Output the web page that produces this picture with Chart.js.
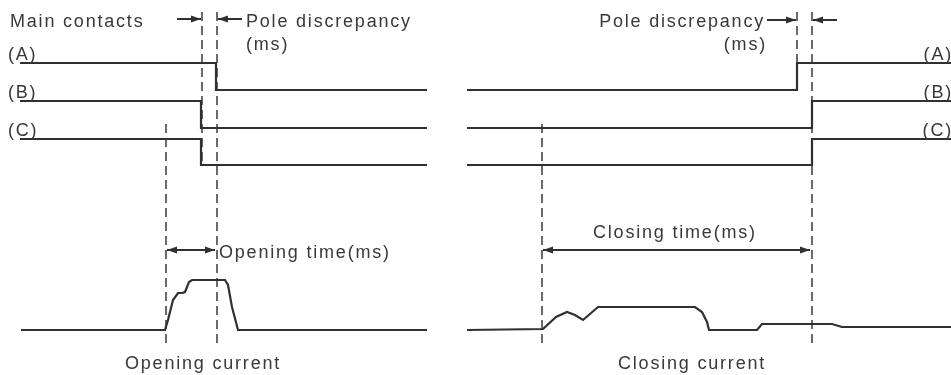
<!DOCTYPE html>
<html>
<head>
<meta charset="utf-8">
<script src="https://cdn.jsdelivr.net/npm/chart.js@4.4.0/dist/chart.umd.js"></script>
<style>
  html, body { margin: 0; padding: 0; background: #fff; }
  #wrap { width: 951px; height: 375px; }
</style>
</head>
<body>
<div id="wrap"><canvas id="timing" width="951" height="375"></canvas></div>
<script>
// Timing diagram: breaker opening (left) and closing (right)
// x = time axis units, y = signal level units (down is lower on the sheet)

// Opening - main contacts
const openTimeA = [20, 216, 216, 427];
const openLevelA = [63, 63, 90, 90];
const openTimeB = [20, 201, 201, 427];
const openLevelB = [101, 101, 128, 128];
const openTimeC = [20, 201, 201, 427];
const openLevelC = [139, 139, 165, 165];

// Opening - coil current
const openCurTime = [21, 165, 168, 173, 178, 182, 185, 189, 192, 225, 228, 232, 238, 427];
const openCurLevel = [330, 330, 320, 300, 293, 293, 292, 282, 280, 280, 285, 307, 330, 330];

// Closing - main contacts
const closeTimeA = [467, 797, 797, 951];
const closeLevelA = [90, 90, 63, 63];
const closeTimeB = [467, 812, 812, 951];
const closeLevelB = [128, 128, 101, 101];
const closeTimeC = [467, 812, 812, 951];
const closeLevelC = [165, 165, 139, 139];

// Closing - coil current
const closeCurTime = [467, 543, 556, 567, 575, 583, 598, 695, 702, 707, 709, 757, 762, 832, 842, 951];
const closeCurLevel = [330, 329, 317, 312, 315, 320, 307, 307, 312, 322, 330, 330, 324, 324, 327, 327];

// Marker (dashed) lines: time, from level, to level
const markerTimes = [166, 202, 217, 542, 797, 812];
const markerFrom = [124, 12, 12, 124, 12, 12];
const markerTo = [348, 165, 348, 348, 90, 348];

const lineColor = '#303030';
const textColor = '#383838';

function toPoints(xs, ys) {
    return xs.map((x, i) => ({ x: x, y: ys[i] }));
}

function trace(xs, ys) {
    return {
        data: toPoints(xs, ys),
        showLine: true,
        borderColor: lineColor,
        borderWidth: 2.2,
        pointRadius: 0,
        tension: 0,
        fill: false
    };
}

function marker(i) {
    return {
        data: [{ x: markerTimes[i], y: markerFrom[i] }, { x: markerTimes[i], y: markerTo[i] }],
        showLine: true,
        borderColor: '#3a3a3a',
        borderWidth: 1.5,
        borderDash: [9, 5],
        pointRadius: 0,
        fill: false
    };
}

const datasets = [
    trace(openTimeA, openLevelA),
    trace(openTimeB, openLevelB),
    trace(openTimeC, openLevelC),
    trace(openCurTime, openCurLevel),
    trace(closeTimeA, closeLevelA),
    trace(closeTimeB, closeLevelB),
    trace(closeTimeC, closeLevelC),
    trace(closeCurTime, closeCurLevel)
];
markerTimes.forEach((t, i) => datasets.push(marker(i)));

// Labels: text, time, level, alignment
const labels = [
    ['Main contacts', 10, 27, 'left'],
    ['Pole discrepancy', 246, 27, 'left'],
    ['(ms)', 246, 50, 'left'],
    ['(A)', 8, 60, 'left'],
    ['(B)', 8, 98, 'left'],
    ['(C)', 8, 136, 'left'],
    ['Opening time(ms)', 219, 258, 'left'],
    ['Opening current', 125, 369, 'left'],
    ['Pole discrepancy', 765, 27, 'right'],
    ['(ms)', 767, 50, 'right'],
    ['(A)', 953, 60, 'right'],
    ['(B)', 953, 98, 'right'],
    ['(C)', 953, 136, 'right'],
    ['Closing time(ms)', 593, 238, 'left'],
    ['Closing current', 618, 369, 'left']
];

// Arrows: from time, to time, level, double headed
const arrows = [
    [177, 201, 19, false],
    [242, 218, 19, false],
    [767, 796, 20, false],
    [837, 813, 20, false],
    [167, 215, 250, true],
    [543, 810, 250, true]
];

function arrowHead(ctx, x, y, dir) {
    ctx.beginPath();
    ctx.moveTo(x, y);
    ctx.lineTo(x - dir * 10, y - 3.5);
    ctx.lineTo(x - dir * 10, y + 3.5);
    ctx.closePath();
    ctx.fill();
}

const annotationPlugin = {
    id: 'annotations',
    afterDatasetsDraw(chart) {
        const ctx = chart.ctx;
        const xs = chart.scales.x;
        const ys = chart.scales.y;
        ctx.save();
        ctx.strokeStyle = lineColor;
        ctx.fillStyle = lineColor;
        ctx.lineWidth = 2;
        arrows.forEach(([from, to, lvl, both]) => {
            const x1 = xs.getPixelForValue(from);
            const x2 = xs.getPixelForValue(to);
            const y = ys.getPixelForValue(lvl);
            ctx.beginPath();
            ctx.moveTo(x1, y);
            ctx.lineTo(x2, y);
            ctx.stroke();
            const dir = x2 > x1 ? 1 : -1;
            arrowHead(ctx, x2, y, dir);
            if (both) arrowHead(ctx, x1, y, -dir);
        });

        ctx.fillStyle = textColor;
        ctx.font = '18px "Liberation Sans", Arial, sans-serif';
        ctx.letterSpacing = '1.8px';
        ctx.textBaseline = 'alphabetic';
        labels.forEach(([txt, t, lvl, align]) => {
            ctx.textAlign = align;
            ctx.fillText(txt, xs.getPixelForValue(t), ys.getPixelForValue(lvl));
        });
        ctx.restore();
    }
};

new Chart(document.getElementById('timing'), {
    type: 'scatter',
    data: { datasets: datasets },
    options: {
        responsive: false,
        animation: false,
        layout: { padding: 0 },
        plugins: {
            legend: { display: false },
            tooltip: { enabled: false }
        },
        scales: {
            x: { type: 'linear', min: 0, max: 951, display: false },
            y: { type: 'linear', min: 0, max: 375, reverse: true, display: false }
        }
    },
    plugins: [annotationPlugin]
});
</script>
</body>
</html>
